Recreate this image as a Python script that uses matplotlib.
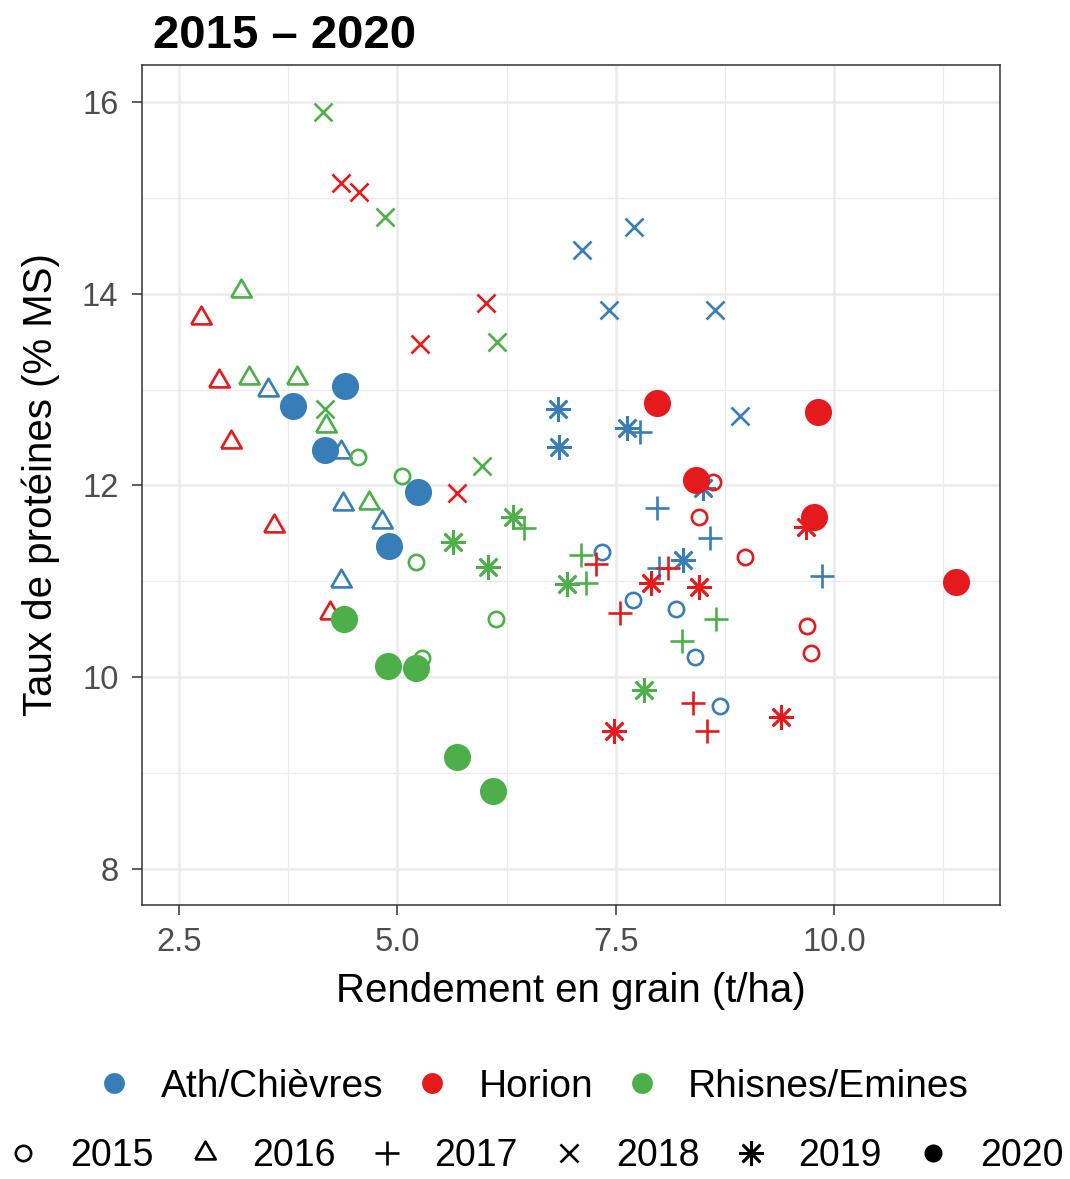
import numpy as np
import matplotlib
matplotlib.use("Agg")
import matplotlib.pyplot as plt
from matplotlib.lines import Line2D

plt.rcParams['font.family'] = ['Liberation Sans', 'DejaVu Sans']

# Data (5 points per year, years 2015..2020 in order)
years = [2015, 2016, 2017, 2018, 2019, 2020]
sites = ['Ath/Chièvres', 'Horion', 'Rhisnes/Emines']

ath_x = [7.34, 7.70, 8.19, 8.41, 8.69,
         3.52, 4.36, 4.38, 4.82, 4.36,
         7.78, 7.97, 8.58, 7.99, 9.86,
         7.11, 7.71, 7.42, 8.64, 8.92,
         6.84, 6.85, 7.63, 8.27, 8.50,
         4.40, 3.81, 4.17, 5.24, 4.90]
ath_y = [11.31, 10.81, 10.71, 10.21, 9.70,
         13.00, 12.35, 11.81, 11.62, 11.00,
         12.56, 11.77, 11.45, 11.14, 11.06,
         14.46, 14.70, 13.83, 13.83, 12.72,
         12.80, 12.40, 12.60, 11.22, 11.97,
         13.04, 12.83, 12.37, 11.93, 11.37]

horion_x = [8.61, 8.45, 8.98, 9.69, 9.74,
            2.75, 2.96, 3.10, 3.59, 4.23,
            7.27, 7.55, 8.10, 8.39, 8.55,
            4.36, 4.56, 5.26, 6.02, 5.68,
            7.90, 8.45, 7.48, 9.39, 9.68,
            7.97, 8.42, 9.82, 9.77, 11.40]
horion_y = [12.04, 11.67, 11.25, 10.53, 10.25,
            13.75, 13.09, 12.45, 11.58, 10.67,
            11.18, 10.67, 11.14, 9.73, 9.44,
            15.16, 15.06, 13.48, 13.90, 11.92,
            10.98, 10.94, 9.44, 9.59, 11.57,
            12.86, 12.06, 12.77, 11.67, 10.99]

rhisnes_x = [4.55, 5.05, 5.21, 5.28, 6.13,
             3.21, 3.30, 3.85, 4.18, 4.68,
             6.45, 7.10, 7.16, 8.65, 8.26,
             4.15, 4.86, 4.17, 6.14, 5.97,
             6.32, 5.64, 6.04, 6.94, 7.82,
             4.39, 4.89, 5.21, 5.68, 6.10]
rhisnes_y = [12.30, 12.10, 11.20, 10.20, 10.61,
             14.03, 13.12, 13.12, 12.62, 11.82,
             11.56, 11.28, 10.98, 10.61, 10.38,
             15.90, 14.80, 12.80, 13.50, 12.20,
             11.67, 11.41, 11.15, 10.97, 9.87,
             10.61, 10.12, 10.10, 9.17, 8.81]

site_colors = ['#377EB8', '#E41A1C', '#4DAF4A']

# marker style per year (ggplot shapes 1, 2, 3, 4, 8, 16)
tri = [(-1, -0.577), (1, -0.577), (0, 1.155), (-1, -0.577)]
year_style = {
    2015: dict(marker='o', ms=11, filled=False),
    2016: dict(marker=tri, ms=17, filled=False),
    2017: dict(marker='+', ms=17.5, filled=False),
    2018: dict(marker='x', ms=13, filled=False),
    2019: dict(marker=(8, 2, 0), ms=18, filled=False),
    2020: dict(marker='o', ms=19.5, filled=True),
}
edge_w = 1.9

fig = plt.figure(figsize=(10.7, 11.79), dpi=100)
ax = fig.add_axes([142 / 1070, 1 - 905 / 1179, 858 / 1070, 840 / 1179])

all_x = [ath_x, horion_x, rhisnes_x]
all_y = [ath_y, horion_y, rhisnes_y]
point_year = np.repeat(years, 5)

for xs, ys, col in zip(all_x, all_y, site_colors):
    xs = np.array(xs)
    ys = np.array(ys)
    for yr in years:
        st = year_style[yr]
        m = point_year == yr
        if st['filled']:
            ax.plot(xs[m], ys[m], linestyle='none', marker=st['marker'], ms=st['ms'],
                    color=col, markeredgewidth=0, zorder=3)
        else:
            ax.plot(xs[m], ys[m], linestyle='none', marker=st['marker'], ms=st['ms'],
                    markerfacecolor='none', markeredgecolor=col,
                    markeredgewidth=edge_w, zorder=3)

ax.set_xlim(2.076, 11.90)
ax.set_ylim(7.624, 16.386)
ax.set_xticks([2.5, 5.0, 7.5, 10.0])
ax.set_xticklabels(['2.5', '5.0', '7.5', '10.0'])
ax.set_yticks([8, 10, 12, 14, 16])
ax.set_xticks([3.75, 6.25, 8.75, 11.25], minor=True)
ax.set_yticks([9, 11, 13, 15], minor=True)

ax.grid(which='major', color='#EBEBEB', linewidth=1.8, zorder=0)
ax.grid(which='minor', color='#EBEBEB', linewidth=0.9, zorder=0)
ax.set_axisbelow(True)
for s in ax.spines.values():
    s.set_color('#333333')
    s.set_linewidth(1.1)

ax.tick_params(which='major', length=7, width=1.1, color='#333333',
               labelcolor='#4D4D4D', labelsize=23.5)
ax.tick_params(axis='x', pad=9)
ax.tick_params(axis='y', pad=10)
ax.tick_params(which='minor', length=0)

ax.set_xlabel('Rendement en grain (t/ha)', fontsize=29, labelpad=10)
ax.set_ylabel('Taux de protéines (% MS)', fontsize=29, labelpad=16)

fig.text(153 / 1070, 1 - 48 / 1179, '2015 – 2020', fontsize=34, fontweight='bold',
         ha='left', va='baseline')

# legends
site_handles = [Line2D([], [], linestyle='none', marker='o', ms=15, color=c,
                       markeredgewidth=0) for c in site_colors]
fig.legend(site_handles, sites, loc='center', bbox_to_anchor=(0.497, 1 - 1087 / 1179),
           ncol=3, frameon=False, fontsize=28, handlelength=1.0,
           handletextpad=0.7, columnspacing=0.75, borderpad=0, borderaxespad=0)

year_handles = []
for yr in years:
    st = year_style[yr]
    if st['filled']:
        h = Line2D([], [], linestyle='none', marker='o', ms=13, color='black',
                   markeredgewidth=0)
    else:
        h = Line2D([], [], linestyle='none', marker=st['marker'], ms=st['ms'],
                   markerfacecolor='none', markeredgecolor='black',
                   markeredgewidth=edge_w)
    year_handles.append(h)
fig.legend(year_handles, [str(y) for y in years], loc='center',
           bbox_to_anchor=(0.499, 1 - 1156 / 1179), ncol=6, frameon=False, fontsize=27,
           handlelength=1.0, handletextpad=0.75, columnspacing=0.88,
           borderpad=0, borderaxespad=0)

fig.savefig('out.png', dpi=100)
